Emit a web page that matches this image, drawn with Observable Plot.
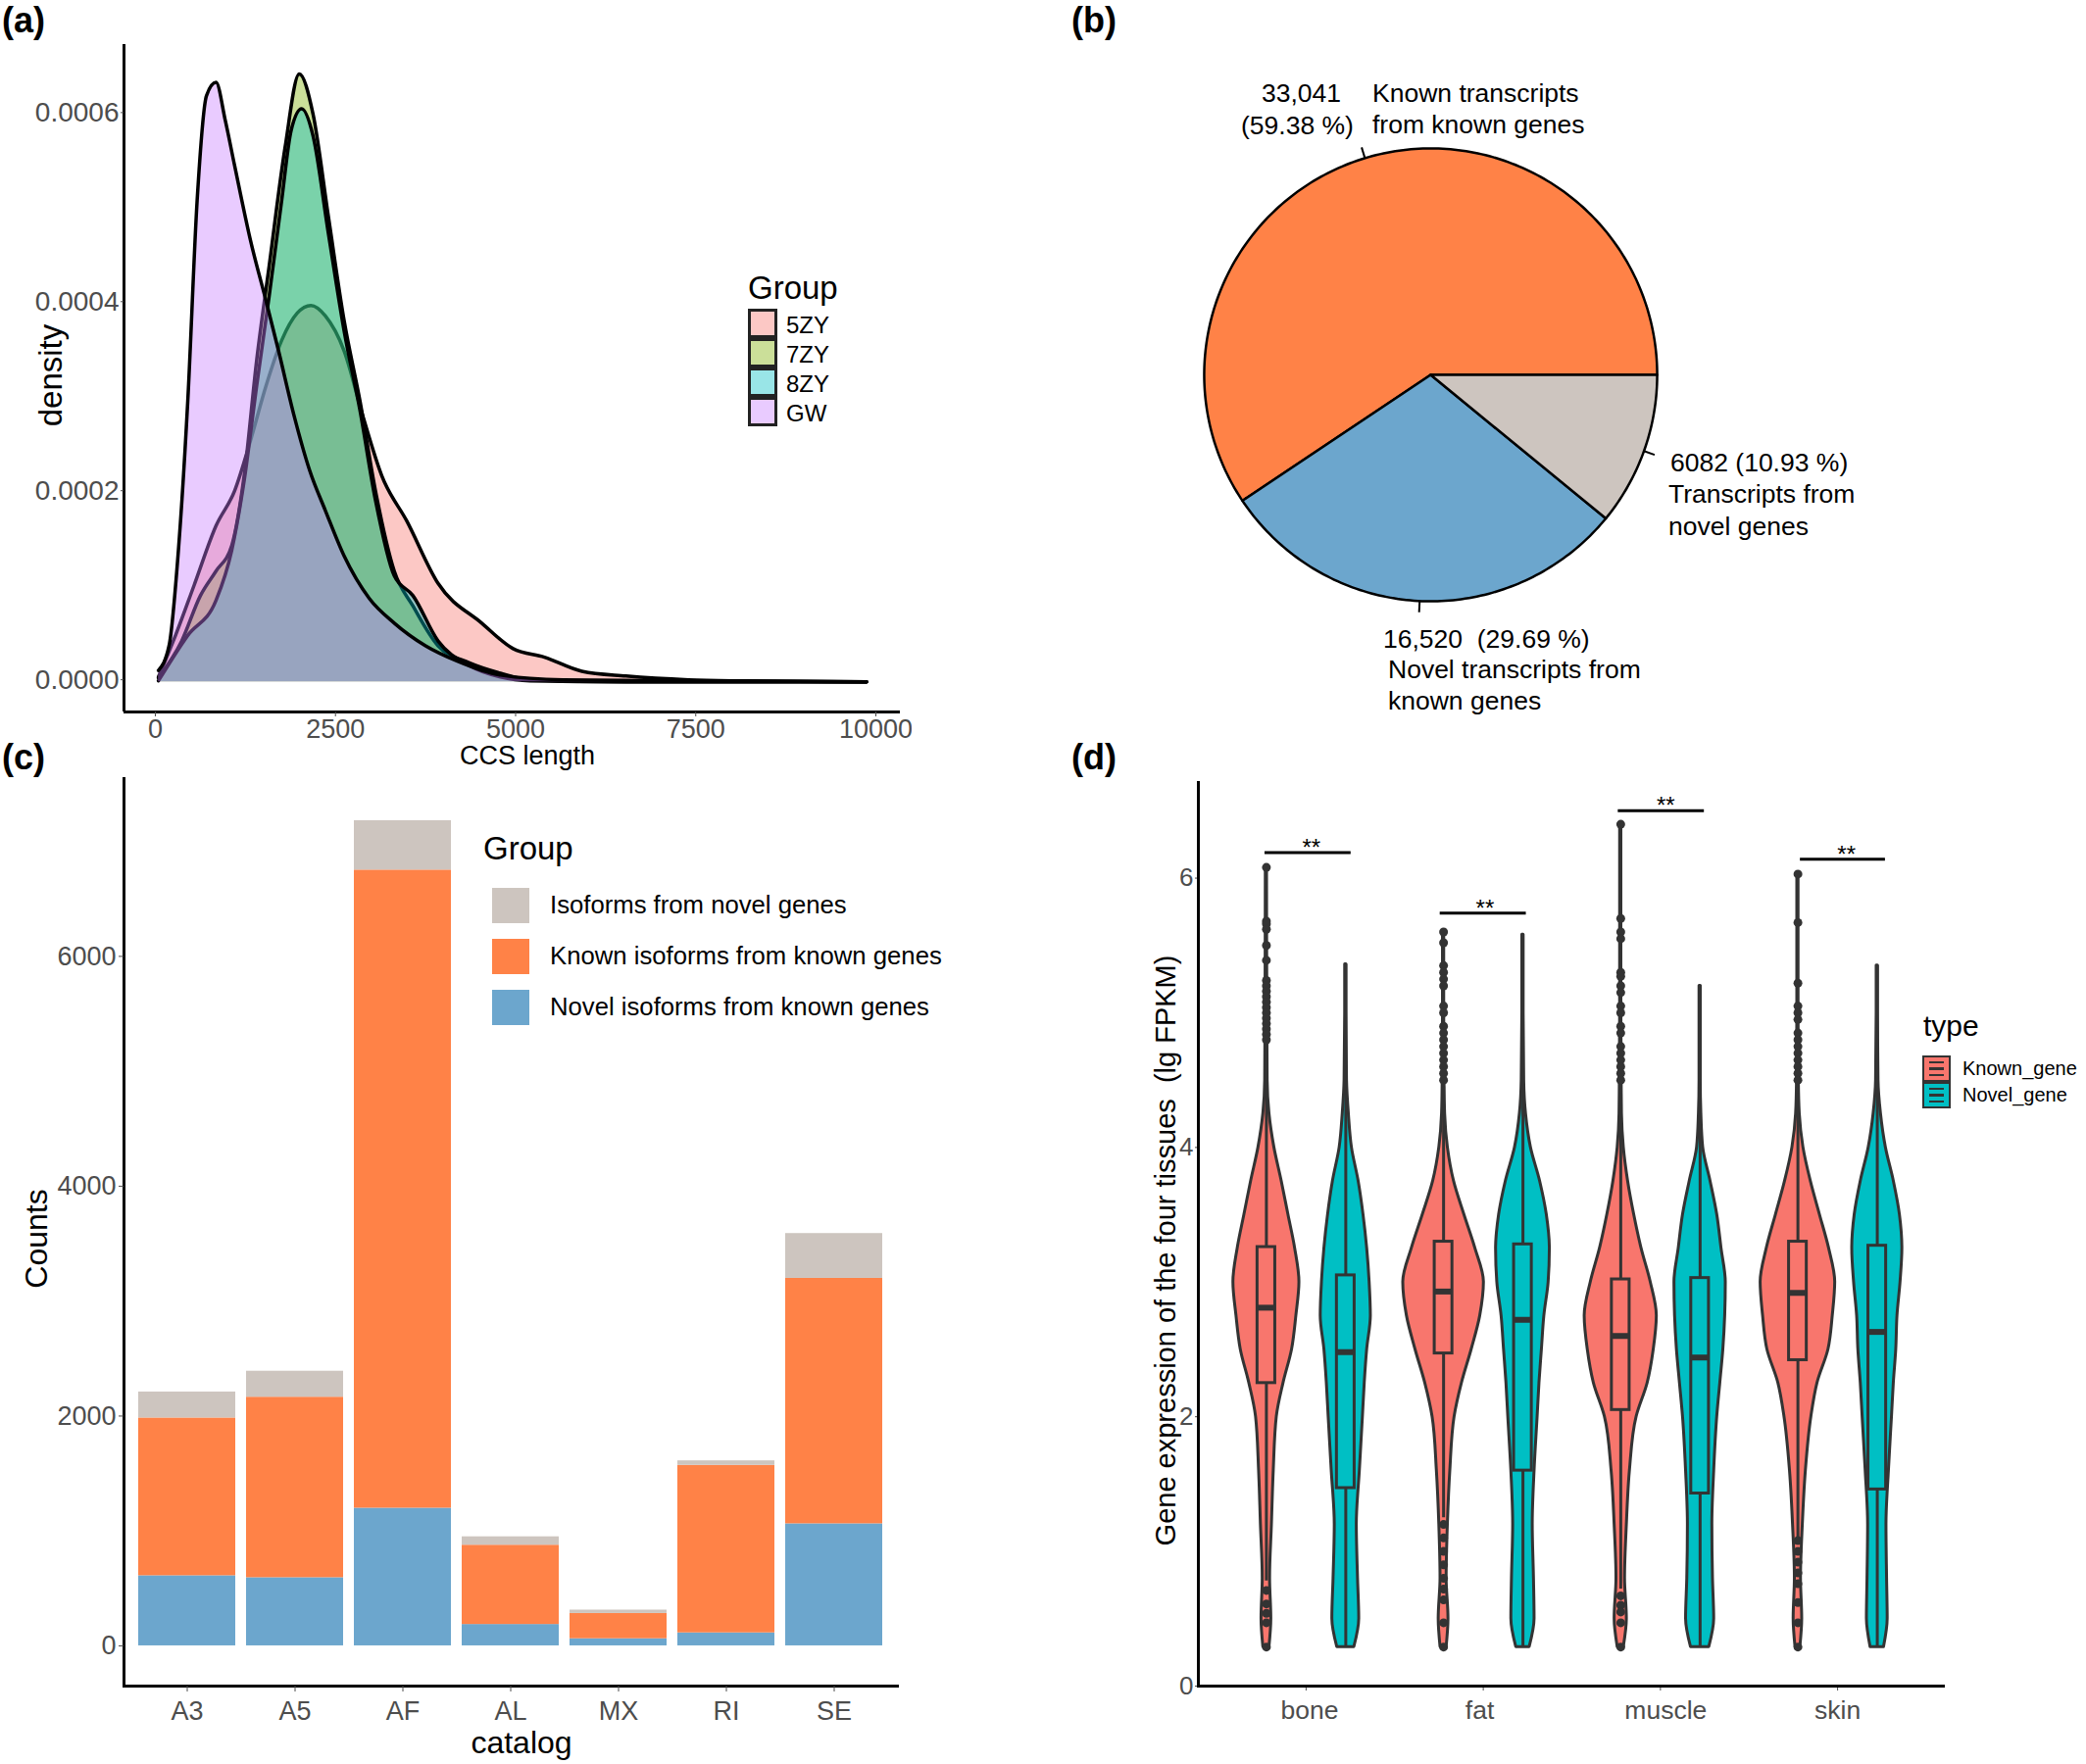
<!DOCTYPE html>
<html>
<head>
<meta charset="utf-8">
<script src="https://cdn.jsdelivr.net/npm/d3@7"></script>
<script src="https://cdn.jsdelivr.net/npm/@observablehq/plot@0.6"></script>
<style>
  html, body { margin: 0; background: #fff; }
  #page { position: relative; width: 2128px; height: 1800px; font-family: "Liberation Sans", Arial, sans-serif; overflow: hidden; }
  #page svg { position: absolute; background: transparent; max-width: none; }
  .lab { position: absolute; white-space: pre; transform: translateY(-50%); line-height: 1; color: #000; }
  .rot { transform: translate(-50%, -50%) rotate(-90deg); }
  .mid { transform: translate(-50%, -50%); }
  .swatch { position: absolute; box-sizing: border-box; }
</style>
</head>
<body>
<div id="page"></div>
<script>
// (a) density of CCS length
const ccsTicks = [0, 2500, 5000, 7500, 10000]
const densTicks = [0, 0.0002, 0.0004, 0.0006]
const groupsA = ["5ZY", "7ZY", "8ZY", "GW"]
const colorsA = ["#F8766D", "#7CAE00", "#00BFC4", "#C77CFF"]

const len5ZY = [43, 280, 538, 842, 1100, 1320, 1536, 1753, 1970, 2160, 2360, 2620, 2880, 3142, 3490, 3924, 4530, 4965, 5400, 5920, 6530, 7400, 8000, 9870]
const den5ZY = [.000005, .000049, .000102, .000165, .000202, .000255, .000313, .000361, .00039, .000398, .000387, .00035, .000281, .000218, .00017, .000104, .000062, .000035, .000026, .000011, .000006, .000002, .000001, 0]
const len7ZY = [43, 365, 625, 842, 1060, 1233, 1406, 1580, 1800, 1997, 2190, 2400, 2620, 2840, 3055, 3316, 3576, 3924, 4358, 4790, 5200, 6530, 9870]
const den7ZY = [.000004, .000043, .000091, .000117, .000144, .000218, .00034, .00044, .000565, .000643, .0006, .000493, .000382, .000297, .000202, .000117, .00008, .000038, .00002, .000009, .000002, 0, 0]
const len8ZY = [43, 450, 842, 1060, 1233, 1406, 1580, 1753, 1884, 2031, 2187, 2400, 2620, 2840, 3055, 3316, 3576, 3924, 4358, 4790, 5200, 6530, 9870]
const den8ZY = [.000001, .000049, .000086, .000139, .000213, .000313, .000408, .000509, .000583, .000606, .000578, .000475, .000371, .000287, .000192, .000112, .000091, .000043, .000017, .000005, .000001, 0, 0]
const lenGW = [43, 190, 320, 450, 580, 710, 842, 970, 1100, 1320, 1536, 1710, 1927, 2144, 2360, 2620, 2970, 3316, 3750, 4184, 4790, 5660, 7400, 9870]
const denGW = [.000012, .000038, .000139, .000297, .000509, .00062, .000634, .000594, .000546, .000467, .000403, .00035, .000281, .000223, .000181, .000133, .000088, .000062, .000038, .000022, .000007, .000002, .000001, 0]

// (b) pie
const pieNames = ["Known transcripts from known genes", "Novel transcripts from known genes", "Transcripts from novel genes"]
const pieShare = [59.38, 29.69, 10.93]
const pieColors = ["#FF8247", "#6CA6CD", "#CDC5BF"]

// (c) stacked bars
const catalog = ["A3", "A5", "AF", "AL", "MX", "RI", "SE"]
const novelIso = [610, 593, 1198, 186, 62, 113, 1062]
const knownIso = [1373, 1571, 5553, 690, 220, 1458, 2136]
const novelGeneIso = [226, 226, 430, 73, 29, 39, 390]
const countTicks = [0, 2000, 4000, 6000]

// (d) violins: widths are read at fixed expression levels, the last level is each violin's top
const tissues = ["bone", "fat", "muscle", "skin"]
const tissueLabelX = [1.02, 1.98, 3.03, 4.0]
const types = ["Known_gene", "Novel_gene"]
const levels = [.29, .5, .8, 1.2, 1.6, 2, 2.25, 2.5, 2.75, 3, 3.25, 3.5, 3.75, 4, 4.25, 4.5, 5]
const boneKnown = [5, 8, 6, 9, 12, 17, 28, 42, 49, 54, 47, 36, 25, 13, 5, 2, 1.5, 1]
const boneNovel = [14, 22, 20, 18, 23, 28, 31, 35, 41, 39, 35, 29, 21, 10, 5, 2, 1, 1]
const fatKnown = [5, 8, 5, 7, 11, 18, 30, 46, 60, 66, 52, 34, 17, 7, 2.5, 1.5, 1, 1]
const fatNovel = [11, 19, 18, 16, 19, 24, 27, 31, 35, 42, 44, 39, 28, 13, 5, 2, 1, 1]
const muscleKnown = [5, 10, 7, 10, 15, 26, 44, 54, 59, 49, 34, 22, 12, 5, 2, 1.5, 1, 1]
const muscleNovel = [15, 23, 21, 20, 23, 28, 33, 38, 41, 42, 35, 28, 17, 5, 2, 1, 1, 1]
const skinKnown = [4, 7, 5, 8, 13, 22, 32, 50, 57, 61, 51, 36, 21, 9, 3, 1.5, 1, 1]
const skinNovel = [11, 17, 16, 15, 19, 24, 27, 31, 33, 38, 41, 37, 27, 14, 6, 2, 1, 1]
const violinTops = [6.08, 5.36, 5.6, 5.58, 6.4, 5.2, 6.03, 5.35]
const q1s = [2.25, 1.47, 2.47, 1.6, 2.05, 1.43, 2.42, 1.46]
const medians = [2.81, 2.48, 2.93, 2.72, 2.6, 2.44, 2.92, 2.63]
const q3s = [3.26, 3.05, 3.3, 3.28, 3.02, 3.03, 3.3, 3.27]
const whiskLow = [.78, .29, 1.25, .29, .72, .29, 1.1, .29]
const whiskHigh = [4.78, 5.36, 4.45, 5.58, 4.4, 5.2, 4.4, 5.35]
const boneOut = [6.08, 5.68, 5.66, 5.62, 5.5, 5.39, 5.24, 5.2, 5.16, 5.12, 5.08, 5.04, 5, 4.96, 4.92, 4.88, 4.84, 4.8, .71, .61, .54, .47, .29]
const fatOut = [5.6, 5.52, 5.35, 5.3, 5.25, 5.2, 5.05, 5, 4.9, 4.85, 4.8, 4.75, 4.7, 4.65, 4.6, 4.55, 4.5, 1.2, 1.1, 1, .9, .8, .72, .64, .47, .29]
const muscleOut = [6.4, 5.7, 5.6, 5.55, 5.3, 5.27, 5.2, 5.15, 5.05, 5, 4.9, 4.85, 4.75, 4.7, 4.65, 4.6, 4.55, 4.5, .67, .6, .55, .47, .29]
const skinOut = [6.03, 5.67, 5.22, 5.05, 5, 4.95, 4.85, 4.8, 4.75, 4.7, 4.65, 4.6, 4.55, 4.5, 1.08, 1, .92, .84, .76, .62, .47, .29]
const sigY = [6.19, 5.74, 6.5, 6.14]
const sigX1 = [.768, 1.757, 2.762, 3.79]
const sigX2 = [1.254, 2.243, 3.248, 4.27]
const sigStarX = [1.03, 2.01, 3.03, 4.05]

const page = document.getElementById("page")
const font = '"Liberation Sans", Arial, sans-serif'
const tickColor = "#4d4d4d"

function place(svg, left, top) {
  svg.style.left = left + "px"
  svg.style.top = top + "px"
  page.appendChild(svg)
}
function label(text, left, top, size, extra) {
  const d = document.createElement("div")
  d.className = "lab " + (extra && extra.cls || "")
  d.textContent = text
  d.style.left = left + "px"
  d.style.top = top + "px"
  d.style.fontSize = size + "px"
  if (extra && extra.bold) d.style.fontWeight = "bold"
  page.appendChild(d)
}
function swatch(left, top, w, h, color, border) {
  const d = document.createElement("div")
  d.className = "swatch"
  d.style.cssText += `left:${left}px;top:${top}px;width:${w}px;height:${h}px;background:${color};` + (border ? `border:${border};` : "")
  page.appendChild(d)
  return d
}

// (a)
const seriesA = [[len5ZY, den5ZY], [len7ZY, den7ZY], [len8ZY, den8ZY], [lenGW, denGW]]
const marksA = []
seriesA.forEach(([xs, ys], i) => {
  const rows = xs.map((x, j) => ({ x, y: ys[j], group: groupsA[i] }))
  marksA.push(Plot.areaY(rows, { x: "x", y: "y", fill: "group", fillOpacity: 0.4, curve: "monotone-x" }))
  marksA.push(Plot.lineY(rows, { x: "x", y: "y", stroke: "black", strokeWidth: 3.5, curve: "monotone-x" }))
})
place(Plot.plot({
  width: 930, height: 770,
  marginLeft: 126, marginRight: 12, marginTop: 45, marginBottom: 44,
  style: { fontFamily: font },
  x: { domain: [-435, 10340] },
  y: { domain: [-0.000032, 0.000674] },
  color: { domain: groupsA, range: colorsA },
  marks: [
    ...marksA,
    Plot.ruleX([-435], { strokeWidth: 3 }),
    Plot.ruleY([-0.000032], { strokeWidth: 3 }),
    Plot.axisX({ ticks: ccsTicks, tickSize: 5, tickPadding: 2, fontSize: 27, color: tickColor, label: null, tickFormat: d3.format("d") }),
    Plot.axisY({ ticks: densTicks, tickSize: 3, tickPadding: 2, fontSize: 28, dy: -2, color: tickColor, label: null, tickFormat: d3.format(".4f") })
  ]
}), 0, 0)

// (b)
let cum = 0
const pieRows = []
const pieTicks = []
pieShare.forEach((share, i) => {
  const a0 = cum / 100 * 2 * Math.PI
  const a1 = (cum + share) / 100 * 2 * Math.PI
  const angles = d3.range(a0, a1, Math.PI / 180).concat(a1)
  pieRows.push({ x: 0, y: 0, name: pieNames[i] })
  angles.forEach(a => pieRows.push({ x: Math.cos(a), y: Math.sin(a), name: pieNames[i] }))
  pieRows.push({ x: 0, y: 0, name: pieNames[i] })
  const m = (a0 + a1) / 2
  pieTicks.push({ x1: Math.cos(m), y1: Math.sin(m), x2: 1.05 * Math.cos(m), y2: 1.05 * Math.sin(m) })
  cum += share
})
place(Plot.plot({
  width: 500, height: 500,
  margin: 0,
  x: { domain: [-1.082, 1.082], axis: null },
  y: { domain: [-1.082, 1.082], axis: null },
  color: { domain: pieNames, range: pieColors },
  marks: [
    Plot.line(pieRows, { x: "x", y: "y", z: "name", fill: "name", stroke: "black", strokeWidth: 2.5, strokeLinejoin: "round" }),
    Plot.link(pieTicks, { x1: "x1", y1: "y1", x2: "x2", y2: "y2", stroke: "black", strokeWidth: 2 })
  ]
}), 1209, 132)

// (c)
const groupsC = ["Novel isoforms from known genes", "Known isoforms from known genes", "Isoforms from novel genes"]
const colorsC = ["#6CA6CD", "#FF8247", "#CDC5BF"]
const rowsC = catalog.flatMap((c, i) => [
  { catalog: c, group: groupsC[0], count: novelIso[i] },
  { catalog: c, group: groupsC[1], count: knownIso[i] },
  { catalog: c, group: groupsC[2], count: novelGeneIso[i] }
])
place(Plot.plot({
  width: 930, height: 990,
  marginLeft: 127, marginRight: 14, marginTop: 14, marginBottom: 50,
  style: { fontFamily: font },
  x: { type: "band", domain: catalog, paddingInner: 0.104, paddingOuter: 0.13, align: 0.5 },
  y: { domain: [-350, 7547] },
  color: { domain: groupsC, range: colorsC },
  marks: [
    Plot.barY(rowsC, { x: "catalog", y: "count", fill: "group", order: groupsC }),
    Plot.frame({ anchor: "left", strokeWidth: 3, stroke: "black" }),
    Plot.frame({ anchor: "bottom", strokeWidth: 3, stroke: "black" }),
    Plot.axisX({ tickSize: 6, tickPadding: 9, fontSize: 27, color: tickColor, label: null }),
    Plot.axisY({ ticks: countTicks, tickSize: 5, tickPadding: 3, fontSize: 27, color: tickColor, label: null, tickFormat: d3.format("d") })
  ]
}), -1, 780)

// (d)
const violins = [boneKnown, boneNovel, fatKnown, fatNovel, muscleKnown, muscleNovel, skinKnown, skinNovel]
const outliers = [boneOut, fatOut, muscleOut, skinOut]
const dodge = 0.224
const violinScale = 0.00345
const boxHalf = 0.05
const colorsD = ["#F8766D", "#00BFC4"]
const darkLine = "#333333"
const statRows = violins.map((_, k) => {
  const t = Math.floor(k / 2)
  const s = k % 2
  return {
    type: types[s],
    cx: t + 1 + (s ? dodge : -dodge),
    q1: q1s[k], med: medians[k], q3: q3s[k], lo: whiskLow[k], hi: whiskHigh[k]
  }
})
const marksD = violins.flatMap((w, k) => {
  const ys = levels.concat(violinTops[k])
  const rows = ys.map((y, j) => ({
    y,
    x1: statRows[k].cx - w[j] * violinScale,
    x2: statRows[k].cx + w[j] * violinScale,
    type: statRows[k].type
  }))
  return [Plot.areaX(rows, { y: "y", x1: "x1", x2: "x2", fill: "type", stroke: darkLine, strokeWidth: 3, curve: "monotone-y" })]
})
const outRows = outliers.flatMap((vals, t) => vals.map(v => ({ x: t + 1 - dodge, y: v })))
const boxMarks = [
  Plot.ruleX(statRows, { x: "cx", y1: "lo", y2: "hi", stroke: darkLine, strokeWidth: 3 }),
  Plot.rect(statRows, { x1: d => d.cx - boxHalf, x2: d => d.cx + boxHalf, y1: "q1", y2: "q3", fill: "type", stroke: darkLine, strokeWidth: 3 }),
  Plot.ruleY(statRows, { y: "med", x1: d => d.cx - boxHalf, x2: d => d.cx + boxHalf, stroke: darkLine, strokeWidth: 6 })
]
const sigRows = sigY.map((y, i) => ({ y, x1: sigX1[i], x2: sigX2[i], sx: sigStarX[i] }))
const tissueRows = tissues.map((t, i) => ({ t, x: tissueLabelX[i] }))
place(Plot.plot({
  width: 840, height: 990,
  marginLeft: 72, marginRight: 8, marginTop: 18, marginBottom: 50,
  style: { fontFamily: font },
  x: { domain: [0.392, 4.597] },
  y: { domain: [0, 6.71] },
  color: { domain: types, range: colorsD },
  marks: [
    ...marksD,
    ...boxMarks,
    Plot.dot(outRows, { x: "x", y: "y", r: 4.5, fill: darkLine }),
    Plot.ruleY(sigRows, { y: "y", x1: "x1", x2: "x2", stroke: "black", strokeWidth: 3 }),
    Plot.text(sigRows, { x: "sx", y: "y", text: () => "**", fontSize: 24, dy: 3, lineAnchor: "bottom", fill: "black" }),
    Plot.axisX({ ticks: [1, 2, 3, 4], text: null, tickSize: 5, label: null, color: tickColor }),
    Plot.text(tissueRows, { x: "x", y: () => 0, text: "t", dy: 25, fontSize: 26.5, fill: tickColor }),
    Plot.axisY({ ticks: [0, 2, 4, 6], tickSize: 3, tickPadding: 2, fontSize: 26, color: tickColor, label: null, tickFormat: d3.format("d") }),
    Plot.frame({ anchor: "left", strokeWidth: 3, stroke: "black" }),
    Plot.frame({ anchor: "bottom", strokeWidth: 3, stroke: "black" })
  ]
}), 1150, 780)

// panel letters and axis titles
label("(a)", 2, 21, 36, { bold: true })
label("(b)", 1093, 21, 36, { bold: true })
label("(c)", 2, 773, 36, { bold: true })
label("(d)", 1093, 773, 36, { bold: true })
label("CCS length", 538, 771, 27, { cls: "mid" })
label("density", 51, 383, 33, { cls: "rot" })
label("catalog", 532, 1778, 32, { cls: "mid" })
label("Counts", 37, 1264, 32, { cls: "rot" })
label("Gene expression of the four tissues  (lg FPKM)", 1189, 1276, 29, { cls: "rot" })

// legend (a)
label("Group", 763, 293, 33)
groupsA.forEach((g, i) => {
  const tops = [315, 345, 375, 405]
  const fill = d3.color(colorsA[i])
  fill.opacity = 0.4
  swatch(763, tops[i], 30, 30, fill.formatRgb(), "3px solid #222")
  label(g, 802, tops[i] + 17, 24)
})

// legend (c)
label("Group", 493, 865, 33)
;[2, 1, 0].forEach((g, i) => {
  const tops = [906, 958, 1010]
  swatch(502, tops[i], 38, 36, colorsC[g])
  label(groupsC[g], 561, tops[i] + 18, 25.7)
})

// legend (d)
label("type", 1962, 1047, 30)
types.forEach((t, i) => {
  const top = 1077 + i * 27
  const s = swatch(1961, top, 29, 27, colorsD[i], "2px solid #333")
  const inner = document.createElement("div")
  inner.style.cssText = "position:absolute;left:5px;right:5px;top:4px;bottom:4px;border-top:2px solid #333;border-bottom:2px solid #333;"
  const med = document.createElement("div")
  med.style.cssText = "position:absolute;left:0;right:0;top:50%;margin-top:-2px;height:3px;background:#333;"
  inner.appendChild(med)
  s.appendChild(inner)
  label(t, 2002, top + 13, 20)
})

// pie labels
label("33,041", 1287, 95, 26.5)
label("(59.38 %)", 1266, 128, 26.5)
label("Known transcripts", 1400, 95, 26.5)
label("from known genes", 1400, 127, 26.5)
label("6082 (10.93 %)", 1704, 472, 26.5)
label("Transcripts from", 1702, 504, 26.5)
label("novel genes", 1702, 537, 26.5)
label("16,520  (29.69 %)", 1411, 652, 26.5)
label("Novel transcripts from", 1416, 683, 26.5)
label("known genes", 1416, 715, 26.5)
</script>
</body>
</html>
